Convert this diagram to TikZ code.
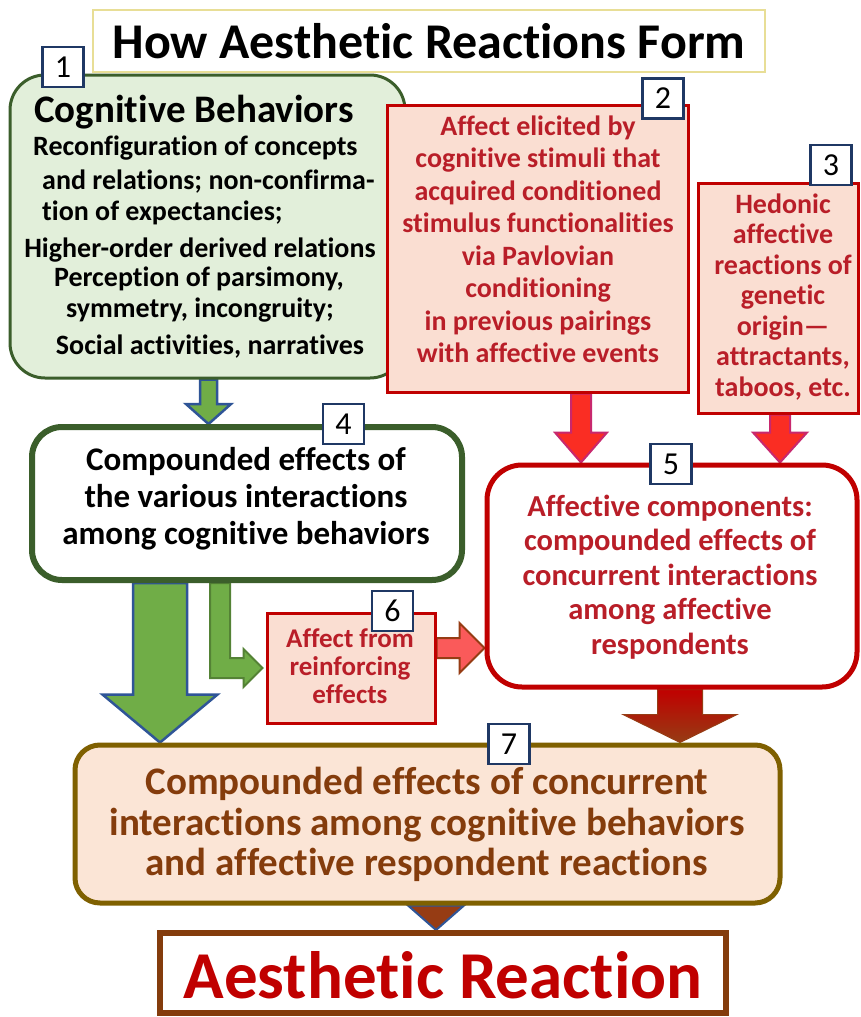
\documentclass[tikz,border=0pt]{standalone}
\usepackage{fontspec}
\setmainfont{Carlito}[Ligatures={NoCommon}]
\usetikzlibrary{calc,backgrounds}
\definecolor{gfill}{RGB}{226,239,218}
\definecolor{gline}{RGB}{59,94,43}
\definecolor{pfill}{RGB}{250,222,210}
\definecolor{rline}{RGB}{192,0,0}
\definecolor{rtext}{RGB}{185,30,40}
\definecolor{navy}{RGB}{31,56,100}
\definecolor{ofill}{RGB}{251,229,214}
\definecolor{oline}{RGB}{127,96,0}
\definecolor{btext}{RGB}{132,60,12}
\definecolor{tline}{RGB}{232,222,150}
\definecolor{agreen}{RGB}{112,173,71}
\definecolor{ablue}{RGB}{47,85,151}
\definecolor{adkgreen}{RGB}{84,130,53}
\definecolor{ared}{RGB}{250,45,35}
\definecolor{amag}{RGB}{200,40,110}
\definecolor{asalmon}{RGB}{250,90,90}
\definecolor{abrown}{RGB}{150,60,20}
\definecolor{fintext}{RGB}{192,0,0}
\newcommand\blkdown[6]{\path[#1] let \p1=(#2), \p2=(#3) in
  (\x1-#4pt,\y1) -- (\x1-#4pt,\y2+#6pt) -- (\x1-#5pt,\y2+#6pt) -- (\x1,\y2)
  -- (\x1+#5pt,\y2+#6pt) -- (\x1+#4pt,\y2+#6pt) -- (\x1+#4pt,\y1) -- cycle;}
\newcommand\blkright[6]{\path[#1] let \p1=(#2), \p2=(#3) in
  (\x1,\y1+#4pt) -- (\x2-#6pt,\y1+#4pt) -- (\x2-#6pt,\y1+#5pt) -- (\x2,\y1)
  -- (\x2-#6pt,\y1-#5pt) -- (\x2-#6pt,\y1-#4pt) -- (\x1,\y1-#4pt) -- cycle;}
\tikzset{
  numbox/.style={draw=navy, line width=2.5pt, fill=white, minimum width=41pt,
    minimum height=40pt, inner sep=0pt, font=\fontsize{32}{32}\selectfont},
  txt/.style={inner sep=0pt, align=center},
  bline/.style={inner sep=0pt, text height=20pt, text depth=6pt,
    font=\bfseries\fontsize{28}{30}\selectfont},
  pinkbox/.style={draw=rline, fill=pfill, line width=3pt, inner sep=0pt},
  garrow/.style={fill=agreen, draw=ablue, line width=2.5pt},
  garrowL/.style={fill=agreen, draw=adkgreen, line width=2pt},
  rarrow/.style={fill=ared, draw=amag, line width=2pt},
  sarrow/.style={fill=asalmon, draw=abrown, line width=2pt},
  darrow/.style={top color=rline, bottom color=abrown, draw=abrown, line width=1pt},
  tarrow/.style={fill=abrown, draw=ablue, line width=2pt}
}
\begin{document}
\begin{tikzpicture}[x=1pt,y=-1pt]
\useasboundingbox (0,0) rectangle (861,1017);

% title
\node[draw=tline, fill=white, line width=2pt, minimum width=672pt, minimum height=62pt, inner sep=0pt] (title) at (429,41) {};
\node[txt, font=\bfseries\fontsize{50}{60}\selectfont] (titletext) at (429,41) {How Aesthetic Reactions Form};

% box 1
\node[draw=gline, fill=gfill, line width=3pt, rounded corners=35pt, minimum width=395pt, minimum height=303pt, inner sep=0pt] (box1) at (207.5,226.5) {};
\node[txt, font=\bfseries\fontsize{39}{42}\selectfont] (b1head) at (194,112) {Cognitive Behaviors};
\node[bline, anchor=west] (b1l1) at (33,148) {Reconfiguration of concepts};
\node[bline, anchor=west] (b1l2) at (42,182) {and relations; non-confirma-};
\node[bline, anchor=west] (b1l3) at (42,213) {tion of expectancies;};
\node[bline] (b1l4) at (200,250) {Higher-order derived relations};
\node[bline] (b1l5) at (199,279) {Perception of parsimony,};
\node[bline] (b1l6) at (200,310) {symmetry, incongruity;};
\node[bline] (b1l7) at (210,347) {Social activities, narratives};
\node[numbox] (n1) at (63,67) {1};

% box 2
\node[pinkbox, minimum width=301pt, minimum height=287pt] (box2) at (537.5,248.5) {};
\node[txt, text=rtext, font=\bfseries\fontsize{28}{32.5}\selectfont] (b2text) at (538,242.5)
 {\strut Affect elicited by\\cognitive stimuli that\\acquired conditioned\\stimulus functionalities\\via Pavlovian\\conditioning\\in previous pairings\\with affective events\strut};
\node[numbox] (n2) at (663,98.5) {2};

% box 3
\node[pinkbox, minimum width=160pt, minimum height=230pt] (box3) at (778,298) {};
\node[txt, text=rtext, font=\bfseries\fontsize{28}{30.5}\selectfont] (b3text) at (783,298.5)
 {\strut Hedonic\\affective\\reactions of\\genetic\\origin—\\attractants,\\taboos, etc.\strut};
\node[numbox] (n3) at (831,165) {3};

% box 4
\node[draw=gline, fill=white, line width=6pt, rounded corners=30pt, minimum width=430pt, minimum height=153pt, inner sep=0pt] (box4) at (247,503.5) {};
\node[txt, font=\bfseries\fontsize{33}{37}\selectfont] (b4text) at (246,500)
 {\strut Compounded effects of\\the various interactions\\among cognitive behaviors\strut};
\node[numbox] (n4) at (343.5,424) {4};

% box 5
\node[draw=rline, fill=white, line width=5pt, rounded corners=35pt, minimum width=370pt, minimum height=222pt, inner sep=0pt] (box5) at (672,576) {};
\node[txt, text=rtext, font=\bfseries\fontsize{30.5}{34.5}\selectfont] (b5text) at (670,578.5)
 {\strut Affective components:\\compounded effects of\\concurrent interactions\\among affective\\respondents\strut};
\node[numbox] (n5) at (671,464) {5};

% box 6
\node[pinkbox, minimum width=168pt, minimum height=110pt] (box6) at (351,668) {};
\node[txt, text=rtext, font=\bfseries\fontsize{27}{28}\selectfont] (b6text) at (350,670)
 {\strut Affect from\\reinforcing\\effects\strut};
\node[numbox] (n6) at (392.5,611) {6};

% box 7
\node[draw=oline, fill=ofill, line width=5pt, rounded corners=25pt, minimum width=705pt, minimum height=158pt, inner sep=0pt] (box7) at (427.5,824) {};
\node[txt, text=btext, font=\bfseries\fontsize{39}{40.5}\selectfont] (b7text) at (427,827)
 {\strut Compounded effects of concurrent\\interactions among cognitive behaviors\\and affective respondent reactions\strut};
\node[numbox] (n7) at (509,744) {7};

% final
\node[draw=btext, fill=white, line width=6pt, minimum width=566pt, minimum height=80pt, inner sep=0pt] (final) at (443,973) {};
\node[txt, text=fintext, font=\bfseries\fontsize{67}{70}\selectfont] (fintxt) at (443,975) {Aesthetic Reaction};

% arrows (behind the boxes)
\begin{pgfonlayer}{background}
\fill[white] (0,0) rectangle (861,1017);
\blkdown{garrow}{[xshift=1pt]box1.south}{box4.north}{8.5}{22.5}{20}
\blkdown{rarrow}{[xshift=43.5pt]box2.south}{box5.north}{10}{26}{30}
\blkdown{rarrow}{[xshift=2pt]box3.south}{box5.north}{10}{27}{30}
\blkdown{garrow}{[xshift=-87pt]box4.south}{box7.north}{27}{57.5}{48}
\blkdown{darrow}{[xshift=8pt]box5.south}{box7.north}{22.5}{57}{28}
\path[garrowL] let \p1=([xshift=-27pt]box4.south), \p2=(box6.west) in
  (\x1-10pt,\y1) -- (\x1-10pt,\y2-10pt) -- (\x2-22pt,\y2-10pt) -- (\x2-22pt,\y2-19pt)
  -- (\x2-3pt,\y2) -- (\x2-22pt,\y2+19pt) -- (\x2-22pt,\y2+10pt) -- (\x1+10pt,\y2+10pt)
  -- (\x1+10pt,\y1) -- cycle;
\blkright{sarrow}{[yshift=20pt]box6.east}{box5.west}{10}{25}{25}
\path[tarrow] let \p1=([xshift=8.5pt]box7.south), \p2=(final.north) in
  (\x1-28pt,\y1) -- (\x1+28pt,\y1) -- (\x1,\y2) -- cycle;
\end{pgfonlayer}
\end{tikzpicture}
\end{document}
